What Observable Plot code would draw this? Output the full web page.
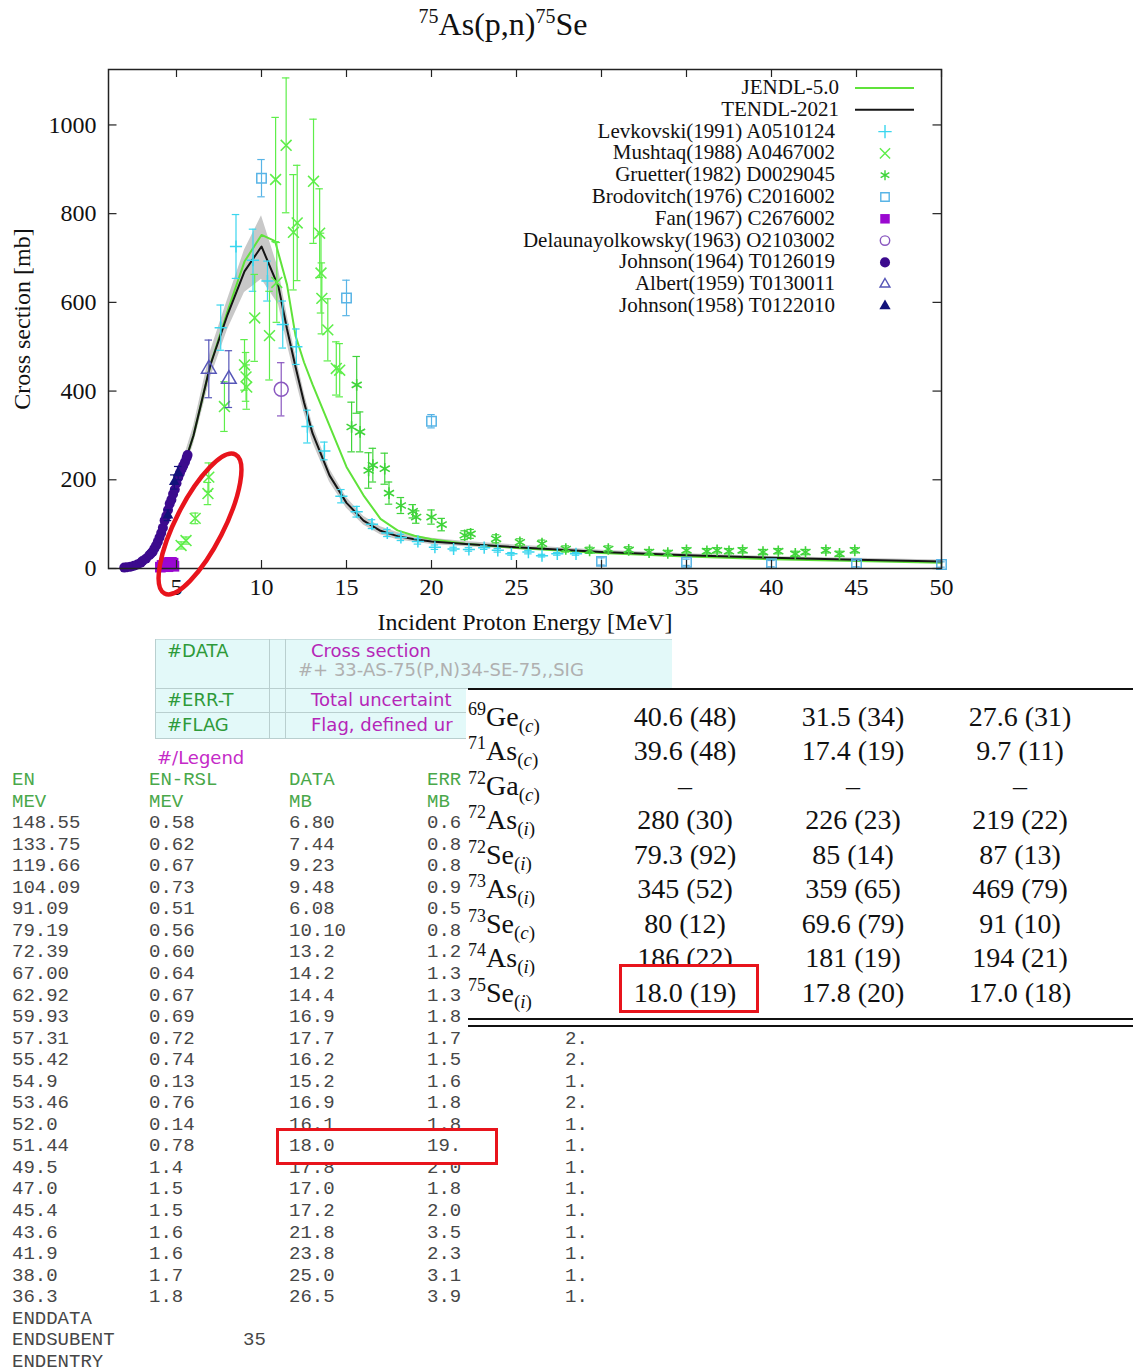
<!DOCTYPE html>
<html><head><meta charset="utf-8">
<script src="https://cdn.jsdelivr.net/npm/d3@7"></script>
<script src="https://cdn.jsdelivr.net/npm/@observablehq/plot@0.6"></script>
<style>
body{margin:0;background:#fff;}
#page{position:relative;width:1133px;height:1372px;overflow:hidden;background:#fff;font-family:"Liberation Serif","Times New Roman",serif;}
#page div{position:absolute;white-space:nowrap;}
.mono{font-family:"Liberation Mono","Courier New",monospace;font-size:19px;line-height:18px;color:#474747;}
.sans{font-family:"DejaVu Sans",Verdana,sans-serif;font-size:18px;line-height:22px;}
</style></head><body><div id="page"></div>
<script>
// ---------- chart data ----------
const xTicks = [5,10,15,20,25,30,35,40,45,50];
const yTicks = [0,200,400,600,800,1000];

const jendlE = [2.0,2.5,3.0,3.5,4.0,4.5,5.0,5.5,6.0,7.0,8.0,9.0,10.0,10.8,11.5,12.0,12.5,13.0,14.0,15.0,16.0,17.0,18.0,19.0,20.0,22.0,25.0,30.0,35.0,40.0,45.0,50.0];
const jendlS = [0,2,10,30,65,128,190,240,300,460,580,692,752,738,640,525,465,415,322,229,165,112,86,74,66,56,46,35,27,21,17,13];

const tendlE  = [2.0,2.5,3.0,3.5,4.0,4.5,5.0,5.5,6.0,7.0,8.0,9.0,10.0,11.0,11.5,12.0,12.5,13.0,14.0,15.0,16.0,17.0,18.0,19.0,20.0,22.0,25.0,30.0,35.0,40.0,45.0,50.0];
const tendlS  = [0,2,10,30,65,130,190,240,300,460,572,670,726,635,540,455,375,305,210,148,108,85,73,66,61,55,48,37,30,24,20,16];
const tendlLo = [0,0,6,24,57,118,175,222,280,430,538,622,652,595,508,428,352,285,195,136,98,76,65,59,54,49,43,33,27,21,17,13];
const tendlHi = [2,5,14,36,73,142,205,258,320,490,606,718,795,675,572,482,398,325,225,160,118,94,81,73,68,61,53,41,33,27,23,19];

// [E (MeV), sigma (mb), error (mb)]
const levkovski = [[7.6,543,51],[8.5,726,72],[9.5,695,70],[10.35,648,45],[11.25,550,53],[12.05,500,40],[12.7,320,37],[13.7,265,20],[14.7,163,15],[15.6,128,12],[16.5,100,10],[17.4,80,8],[18.2,70,7],[19.2,61,6],[20.2,48,5],[21.3,44,4],[22.2,43,4],[23.1,47,4],[23.9,41,4],[24.7,33,3],[25.7,37,4],[26.5,29,3],[27.4,33,3],[28.5,33,3]];
const mushtaq = [[5.27,52,8],[5.56,63,8],[6.1,113,12],[6.85,169,25],[6.9,206,32],[7.82,365,56],[9.0,459,57],[9.09,432,55],[9.13,409,50],[9.6,565,98],[10.47,525,100],[10.83,877,140],[10.9,645,90],[11.45,954,152],[11.88,758,130],[12.1,779,130],[13.06,873,140],[13.42,756,100],[13.5,666,90],[13.55,609,80],[13.9,538,70],[14.4,451,60],[14.6,447,60]];
const gruetter = [[15.3,319,56],[15.6,414,64],[15.8,308,45],[16.3,221,40],[16.55,233,38],[17.25,225,35],[17.5,170,25],[18.2,142,18],[18.9,129,15],[19.1,116,14],[20.0,116,16],[20.6,99,14],[21.95,75,10],[22.3,78,10],[23.8,67,9],[25.2,59,8],[26.5,56,8],[27.9,44,7],[29.3,41,7],[30.4,44,7],[31.6,42,7],[32.8,37,6],[33.9,35,6],[35.0,41,6],[36.2,39,6],[36.8,41,6],[37.5,39,6],[38.3,41,6],[39.5,37,6],[40.4,39,6],[41.4,33,6],[42.0,37,6],[43.2,41,6],[44.0,33,6],[44.9,41,6]];
const brodovitch = [[10,880,42],[15,610,40],[20,332,15],[30,16,8],[35,14,7],[40,11,7],[45,11,7],[50,9,6]];
const fan = [[4.05,3,0],[4.15,7,0],[4.3,10,0],[4.45,13,0],[4.6,14,0],[4.7,14,0],[4.8,12,0],[4.85,5,0],[4.5,4,0]];
const delaunay = [[11.16,404,60]];
const johnson64 = [[1.93,2,0],[2.1,3,0],[2.3,4,0],[2.5,6,0],[2.7,9,0],[2.9,13,0],[3.0,17,0],[3.2,22,0],[3.4,30,0],[3.5,34,0],[3.6,38,0],[3.7,45,0],[3.8,52,0],[3.9,60,0],[4.0,70,0],[4.1,80,0],[4.2,92,0],[4.3,108,0],[4.4,118,0],[4.5,132,0],[4.6,146,0],[4.7,155,0],[4.8,168,0],[4.9,178,0],[5.0,192,0],[5.1,205,0],[5.2,215,0],[5.3,224,0],[5.4,232,0],[5.5,240,0],[5.6,250,0],[5.65,256,0]];
const albert = [[6.9,450,65],[8.08,427,64]];
const johnson58 = [[4.5,120,12],[4.87,195,16],[5.1,215,15]];

const legendLabels = ["JENDL-5.0","TENDL-2021","Levkovski(1991) A0510124","Mushtaq(1988) A0467002","Gruetter(1982) D0029045","Brodovitch(1976) C2016002","Fan(1967) C2676002","Delaunayolkowsky(1963) O2103002","Johnson(1964) T0126019","Albert(1959) T0130011","Johnson(1958) T0122010"];

// ---------- table data ----------
const exforHeads = [["#DATA","Cross section","#+ 33-AS-75(P,N)34-SE-75,,SIG"],["#ERR-T","Total uncertaint",""],["#FLAG","Flag, defined ur",""]];
const colHeads1 = ["EN","EN-RSL","DATA","ERR"];
const colHeads2 = ["MEV","MEV","MB","MB"];
const enCol   = ["148.55","133.75","119.66","104.09","91.09","79.19","72.39","67.00","62.92","59.93","57.31","55.42","54.9","53.46","52.0","51.44","49.5","47.0","45.4","43.6","41.9","38.0","36.3"];
const rslCol  = ["0.58","0.62","0.67","0.73","0.51","0.56","0.60","0.64","0.67","0.69","0.72","0.74","0.13","0.76","0.14","0.78","1.4","1.5","1.5","1.6","1.6","1.7","1.8"];
const dataCol = ["6.80","7.44","9.23","9.48","6.08","10.10","13.2","14.2","14.4","16.9","17.7","16.2","15.2","16.9","16.1","18.0","17.8","17.0","17.2","21.8","23.8","25.0","26.5"];
const errCol  = ["0.6","0.8","0.8","0.9","0.5","0.8","1.2","1.3","1.3","1.8","1.7","1.5","1.6","1.8","1.8","19.","2.0","1.8","2.0","3.5","2.3","3.1","3.9"];
const flagCol = ["","","","","","","","","","","2.","2.","1.","2.","1.","1.","1.","1.","1.","1.","1.","1.","1."];
const tailLines = [["ENDDATA",""],["ENDSUBENT","35"],["ENDENTRY",""]];

const nuclides = [["69","Ge","c"],["71","As","c"],["72","Ga","c"],["72","As","i"],["72","Se","i"],["73","As","i"],["73","Se","c"],["74","As","i"],["75","Se","i"]];
const valCol1 = ["40.6 (48)","39.6 (48)","–","280 (30)","79.3 (92)","345 (52)","80 (12)","186 (22)","18.0 (19)"];
const valCol2 = ["31.5 (34)","17.4 (19)","–","226 (23)","85 (14)","359 (65)","69.6 (79)","181 (19)","17.8 (20)"];
const valCol3 = ["27.6 (31)","9.7 (11)","–","219 (22)","87 (13)","469 (79)","91 (10)","194 (21)","17.0 (18)"];

// ---------- build ----------
const page = document.getElementById("page");
function el(css, html){ const e=document.createElement("div"); e.style.cssText=css; if(html!=null) e.innerHTML=html; page.appendChild(e); return e; }

const tendl = tendlE.map((e,i)=>({e, s:tendlS[i], lo:tendlLo[i], hi:tendlHi[i]}));
const jendl = jendlE.map((e,i)=>({e, s:jendlS[i]}));

const C = {
  jendl:"#5fe23a", tendl:"#151515", lev:"#3ad6ee", mus:"#5eee4a", gru:"#3fd43a",
  bro:"#58b4e6", fan:"#9a08d0", del:"#8a58c0", j64:"#3c0a8e", alb:"#5656b8", j58:"#12127a"
};

function errs(data, color){
  const d = data.filter(r=>r[2]>0);
  return [
    Plot.ruleX(d,{x:r=>r[0], y1:r=>r[1]-r[2], y2:r=>r[1]+r[2], stroke:color, strokeWidth:1.2}),
    Plot.ruleY(d,{y:r=>r[1]+r[2], x1:r=>r[0]-0.22, x2:r=>r[0]+0.22, stroke:color, strokeWidth:1.2}),
    Plot.ruleY(d,{y:r=>r[1]-r[2], x1:r=>r[0]-0.22, x2:r=>r[0]+0.22, stroke:color, strokeWidth:1.2})
  ];
}
function pts(data, color, symbol, r, filled, sw=1.5){
  return Plot.dot(data,{x:r0=>r0[0], y:r0=>r0[1], symbol, r, fill: filled?color:"none", stroke: filled?null:color, strokeWidth: sw});
}

const chart = Plot.plot({
  width:1133, height:640,
  marginLeft:108, marginRight:192, marginTop:69, marginBottom:72,
  x:{domain:[1,50]},
  y:{domain:[0,1125]},
  style:{fontFamily:'"Liberation Serif","Times New Roman",serif', fontSize:"24px", color:"#111", background:"transparent"},
  marks:[
    Plot.areaY(tendl,{x:"e", y1:"lo", y2:"hi", fill:"#c8c8c8"}),
    Plot.line(jendl,{x:"e", y:"s", stroke:C.jendl, strokeWidth:2}),
    Plot.line(tendl,{x:"e", y:"s", stroke:C.tendl, strokeWidth:2}),
    ...errs(levkovski, C.lev), pts(levkovski, C.lev, "plus", 4, false),
    ...errs(mushtaq, C.mus), pts(mushtaq, C.mus, "times", 5, false, 1.6),
    ...errs(gruetter, C.gru), pts(gruetter, C.gru, "asterisk", 5.5, false, 1.6),
    ...errs(brodovitch, C.bro), pts(brodovitch, C.bro, "square2", 6, false),
    pts(fan, C.fan, "square", 6, true),
    ...errs(delaunay, C.del), pts(delaunay, C.del, "circle", 7, false),
    pts(johnson64, C.j64, "circle", 5, true),
    ...errs(albert, C.alb), pts(albert, C.alb, "triangle2", 7, false),
    ...errs(johnson58, C.j58), pts(johnson58, C.j58, "triangle", 4, true),
    Plot.frame({stroke:"#222", strokeWidth:1.5}),
    Plot.ruleX(xTicks,{x:d=>d, y1:0, y2:18, stroke:"#222", strokeWidth:1.2}),
    Plot.ruleX(xTicks,{x:d=>d, y1:1107, y2:1125, stroke:"#222", strokeWidth:1.2}),
    Plot.ruleY(yTicks,{y:d=>d, x1:1, x2:1.5, stroke:"#222", strokeWidth:1.2}),
    Plot.ruleY(yTicks,{y:d=>d, x1:49.5, x2:50, stroke:"#222", strokeWidth:1.2}),
    Plot.axisX({ticks:xTicks, tickSize:0, tickPadding:9, label:null, tickFormat:d=>String(d)}),
    Plot.axisY({ticks:yTicks, tickSize:0, tickPadding:12, label:null, tickFormat:d=>String(d)})
  ]
});
chart.style.position="absolute"; chart.style.left="0px"; chart.style.top="0px";
page.appendChild(chart);

// title & axis titles
el("left:303px;top:2px;width:400px;text-align:center;font-size:32px;line-height:44px;color:#111;",
   '<span style="font-size:20px;position:relative;top:-12px">75</span>As(p,n)<span style="font-size:20px;position:relative;top:-12px">75</span>Se');
el("left:325px;top:607px;width:400px;text-align:center;font-size:24px;line-height:30px;color:#111;","Incident Proton Energy [MeV]");
el("left:-78px;top:304px;width:200px;text-align:center;font-size:24px;line-height:30px;color:#111;transform:rotate(-90deg);","Cross section [mb]");

// legend
const legRows = [88,109.8,131.6,153.4,175.2,197,218.8,240.6,262.4,284.2,306];
const legStyles = [
  {line:C.jendl},{line:C.tendl},
  {c:C.lev,t:d3.symbolPlus,f:false,s:60},{c:C.mus,t:d3.symbolTimes,f:false,s:70},{c:C.gru,t:d3.symbolAsterisk,f:false,s:70},
  {c:C.bro,t:d3.symbolSquare2,f:false,s:90},{c:C.fan,t:d3.symbolSquare,f:true,s:90},{c:C.del,t:d3.symbolCircle,f:false,s:70},
  {c:C.j64,t:d3.symbolCircle,f:true,s:80},{c:C.alb,t:d3.symbolTriangle2,f:false,s:70},{c:C.j58,t:d3.symbolTriangle,f:true,s:55}
];
legendLabels.forEach((lab,i)=>{
  const right = i<2 ? 839 : 835;
  el(`left:${right-500}px;top:${legRows[i]-10}px;width:500px;text-align:right;font-size:21px;line-height:19px;color:#111;`, lab);
});
const ov = d3.select(page).append("svg").attr("width",1133).attr("height",640)
  .style("position","absolute").style("left","0px").style("top","0px").style("pointer-events","none");
legStyles.forEach((st,i)=>{
  const y = legRows[i];
  if(st.line){ ov.append("line").attr("x1",855).attr("x2",914).attr("y1",y).attr("y2",y).attr("stroke",st.line).attr("stroke-width",2); }
  else {
    ov.append("path").attr("d", d3.symbol(st.t, st.s)()).attr("transform",`translate(885,${y})`)
      .attr("fill", st.f?st.c:"none").attr("stroke", st.f?"none":st.c).attr("stroke-width",1.4);
  }
});
// red annotation ellipse
ov.append("ellipse").attr("cx",200).attr("cy",524).attr("rx",78).attr("ry",24)
  .attr("transform","rotate(-63 200 524)").attr("fill","none").attr("stroke","#e8141c").attr("stroke-width",4.5);

// EXFOR header table (cyan)
el("left:155px;top:639px;width:517px;height:99px;background:#e3f9f9;border-top:1px solid #c7dede;");
el("left:269px;top:639px;width:1px;height:99px;background:#b9cfcf;");
el("left:285px;top:639px;width:1px;height:99px;background:#b9cfcf;");
el("left:155px;top:688px;width:517px;height:1px;background:#b9cfcf;");
el("left:155px;top:712px;width:517px;height:1px;background:#b9cfcf;");
el("left:155px;top:738px;width:517px;height:1px;background:#b9cfcf;");
el("left:155px;top:639px;width:1px;height:99px;background:#b9cfcf;");
const headY = [[651,670],[699.5],[724.5]];
exforHeads.forEach((r,i)=>{
  el(`left:167px;top:${headY[i][0]-11}px;color:#2e9a3a;`, r[0]).className="sans";
  el(`left:311px;top:${headY[i][0]-11}px;color:#b526b8;`, r[1]).className="sans";
  if(r[2]) el(`left:298px;top:${headY[i][1]-11}px;color:#b0b0b0;`, r[2]).className="sans";
});
el("left:157px;top:747px;color:#c52ac8;","#/Legend").className="sans";

// monospace data table
const colX = [12,149,289,427,565];
const rowY = i => 780 + i*21.55;
colHeads1.forEach((h,j)=>{ el(`left:${colX[j]}px;top:${rowY(0)-9}px;color:#4aa84a;`, h).className="mono"; });
colHeads2.forEach((h,j)=>{ el(`left:${colX[j]}px;top:${rowY(1)-9}px;color:#4aa84a;`, h).className="mono"; });
enCol.forEach((v,i)=>{
  const y = rowY(i+2)-9;
  [v, rslCol[i], dataCol[i], errCol[i], flagCol[i]].forEach((t,j)=>{ if(t) el(`left:${colX[j]}px;top:${y}px;`, t).className="mono"; });
});
tailLines.forEach((r,i)=>{
  const y = rowY(enCol.length+2+i)-9;
  el(`left:12px;top:${y}px;`, r[0]).className="mono";
  if(r[1]) el(`left:243px;top:${y}px;`, r[1]).className="mono";
});
// red highlight box (left)
const hiRow = enCol.indexOf("51.44");
el("left:276px;top:1128px;width:216px;height:31px;background:#fff;border:3.5px solid #e8141c;");
el(`left:289px;top:${rowY(hiRow+2)-9}px;`, dataCol[hiRow]).className="mono";
el(`left:427px;top:${rowY(hiRow+2)-9}px;`, errCol[hiRow]).className="mono";

// right table
el("left:466px;top:689px;width:667px;height:341px;background:#fff;");
el("left:468px;top:688px;width:665px;height:2px;background:#111;");
el("left:468px;top:1018px;width:665px;height:2px;background:#111;");
el("left:468px;top:1025px;width:665px;height:2px;background:#111;");
const tRowY = i => 716.5 + i*34.5;
const valCols = [[valCol1,685],[valCol2,853],[valCol3,1020]];
nuclides.forEach((n,i)=>{
  const y = tRowY(i);
  el(`left:468px;top:${y-20}px;font-size:28px;line-height:40px;color:#111;`,
     `<span style="font-size:18px;position:relative;top:-11px">${n[0]}</span>${n[1]}<span style="font-size:19px;position:relative;top:6px">(<i>${n[2]}</i>)</span>`);
  valCols.forEach(([col,cx])=>{
    el(`left:${cx-90}px;top:${y-20}px;width:180px;text-align:center;font-size:28px;line-height:40px;color:#111;`, col[i]);
  });
});
// red highlight box (right)
const hiNuc = nuclides.length-1;
el("left:619px;top:964px;width:134px;height:43px;background:#fff;border:3.5px solid #e8141c;");
el(`left:${685-90}px;top:${tRowY(hiNuc)-20}px;width:180px;text-align:center;font-size:28px;line-height:40px;color:#111;`, valCol1[hiNuc]);
</script>
</body></html>
